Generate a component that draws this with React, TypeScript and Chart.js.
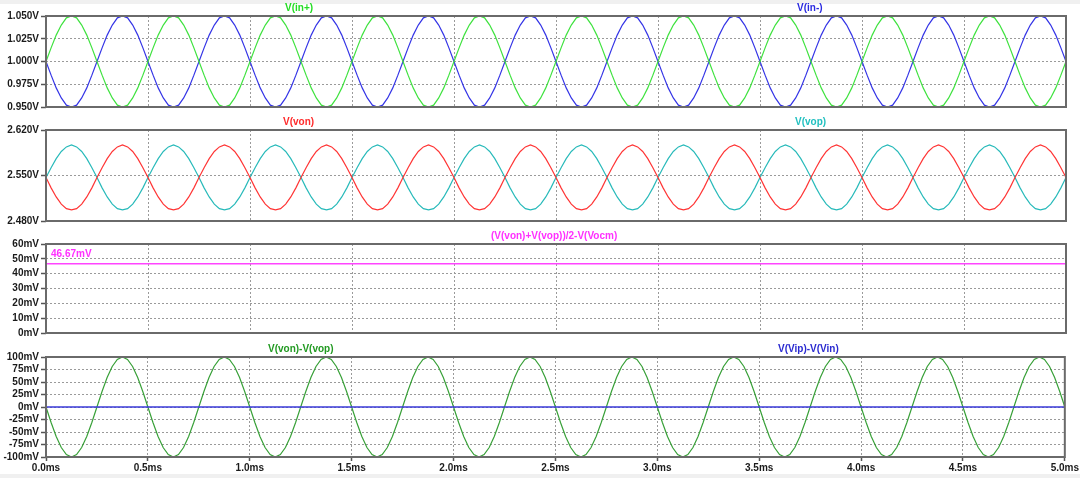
import React, { useEffect, useRef } from 'react';
import { Chart, registerables } from 'chart.js';

Chart.register(...registerables);

// ---------- data ----------
const timeStepMs = 0.025; // simulation sample step (ms)
const xTickValues = [0, 0.5, 1, 1.5, 2, 2.5, 3, 3.5, 4, 4.5, 5];
const flatTimes = [0, 5];

// V(in+) [V]
const vInPlus = [
  1.000, 1.015, 1.029, 1.040, 1.048, 1.050, 1.048, 1.040, 1.029, 1.015, 1.000, 0.985, 0.971, 0.960, 0.952, 0.950, 0.952, 0.960, 0.971, 0.985,
  1.000, 1.015, 1.029, 1.040, 1.048, 1.050, 1.048, 1.040, 1.029, 1.015, 1.000, 0.985, 0.971, 0.960, 0.952, 0.950, 0.952, 0.960, 0.971, 0.985,
  1.000, 1.015, 1.029, 1.040, 1.048, 1.050, 1.048, 1.040, 1.029, 1.015, 1.000, 0.985, 0.971, 0.960, 0.952, 0.950, 0.952, 0.960, 0.971, 0.985,
  1.000, 1.015, 1.029, 1.040, 1.048, 1.050, 1.048, 1.040, 1.029, 1.015, 1.000, 0.985, 0.971, 0.960, 0.952, 0.950, 0.952, 0.960, 0.971, 0.985,
  1.000, 1.015, 1.029, 1.040, 1.048, 1.050, 1.048, 1.040, 1.029, 1.015, 1.000, 0.985, 0.971, 0.960, 0.952, 0.950, 0.952, 0.960, 0.971, 0.985,
  1.000, 1.015, 1.029, 1.040, 1.048, 1.050, 1.048, 1.040, 1.029, 1.015, 1.000, 0.985, 0.971, 0.960, 0.952, 0.950, 0.952, 0.960, 0.971, 0.985,
  1.000, 1.015, 1.029, 1.040, 1.048, 1.050, 1.048, 1.040, 1.029, 1.015, 1.000, 0.985, 0.971, 0.960, 0.952, 0.950, 0.952, 0.960, 0.971, 0.985,
  1.000, 1.015, 1.029, 1.040, 1.048, 1.050, 1.048, 1.040, 1.029, 1.015, 1.000, 0.985, 0.971, 0.960, 0.952, 0.950, 0.952, 0.960, 0.971, 0.985,
  1.000, 1.015, 1.029, 1.040, 1.048, 1.050, 1.048, 1.040, 1.029, 1.015, 1.000, 0.985, 0.971, 0.960, 0.952, 0.950, 0.952, 0.960, 0.971, 0.985,
  1.000, 1.015, 1.029, 1.040, 1.048, 1.050, 1.048, 1.040, 1.029, 1.015, 1.000, 0.985, 0.971, 0.960, 0.952, 0.950, 0.952, 0.960, 0.971, 0.985,
  1.000,
];

// V(in-) [V]
const vInMinus = [
  1.000, 0.985, 0.971, 0.960, 0.952, 0.950, 0.952, 0.960, 0.971, 0.985, 1.000, 1.015, 1.029, 1.040, 1.048, 1.050, 1.048, 1.040, 1.029, 1.015,
  1.000, 0.985, 0.971, 0.960, 0.952, 0.950, 0.952, 0.960, 0.971, 0.985, 1.000, 1.015, 1.029, 1.040, 1.048, 1.050, 1.048, 1.040, 1.029, 1.015,
  1.000, 0.985, 0.971, 0.960, 0.952, 0.950, 0.952, 0.960, 0.971, 0.985, 1.000, 1.015, 1.029, 1.040, 1.048, 1.050, 1.048, 1.040, 1.029, 1.015,
  1.000, 0.985, 0.971, 0.960, 0.952, 0.950, 0.952, 0.960, 0.971, 0.985, 1.000, 1.015, 1.029, 1.040, 1.048, 1.050, 1.048, 1.040, 1.029, 1.015,
  1.000, 0.985, 0.971, 0.960, 0.952, 0.950, 0.952, 0.960, 0.971, 0.985, 1.000, 1.015, 1.029, 1.040, 1.048, 1.050, 1.048, 1.040, 1.029, 1.015,
  1.000, 0.985, 0.971, 0.960, 0.952, 0.950, 0.952, 0.960, 0.971, 0.985, 1.000, 1.015, 1.029, 1.040, 1.048, 1.050, 1.048, 1.040, 1.029, 1.015,
  1.000, 0.985, 0.971, 0.960, 0.952, 0.950, 0.952, 0.960, 0.971, 0.985, 1.000, 1.015, 1.029, 1.040, 1.048, 1.050, 1.048, 1.040, 1.029, 1.015,
  1.000, 0.985, 0.971, 0.960, 0.952, 0.950, 0.952, 0.960, 0.971, 0.985, 1.000, 1.015, 1.029, 1.040, 1.048, 1.050, 1.048, 1.040, 1.029, 1.015,
  1.000, 0.985, 0.971, 0.960, 0.952, 0.950, 0.952, 0.960, 0.971, 0.985, 1.000, 1.015, 1.029, 1.040, 1.048, 1.050, 1.048, 1.040, 1.029, 1.015,
  1.000, 0.985, 0.971, 0.960, 0.952, 0.950, 0.952, 0.960, 0.971, 0.985, 1.000, 1.015, 1.029, 1.040, 1.048, 1.050, 1.048, 1.040, 1.029, 1.015,
  1.000,
];

// V(von) [V]
const vVon = [
  2.547, 2.531, 2.517, 2.506, 2.499, 2.497, 2.499, 2.506, 2.517, 2.531, 2.547, 2.562, 2.576, 2.587, 2.594, 2.597, 2.594, 2.587, 2.576, 2.562,
  2.547, 2.531, 2.517, 2.506, 2.499, 2.497, 2.499, 2.506, 2.517, 2.531, 2.547, 2.562, 2.576, 2.587, 2.594, 2.597, 2.594, 2.587, 2.576, 2.562,
  2.547, 2.531, 2.517, 2.506, 2.499, 2.497, 2.499, 2.506, 2.517, 2.531, 2.547, 2.562, 2.576, 2.587, 2.594, 2.597, 2.594, 2.587, 2.576, 2.562,
  2.547, 2.531, 2.517, 2.506, 2.499, 2.497, 2.499, 2.506, 2.517, 2.531, 2.547, 2.562, 2.576, 2.587, 2.594, 2.597, 2.594, 2.587, 2.576, 2.562,
  2.547, 2.531, 2.517, 2.506, 2.499, 2.497, 2.499, 2.506, 2.517, 2.531, 2.547, 2.562, 2.576, 2.587, 2.594, 2.597, 2.594, 2.587, 2.576, 2.562,
  2.547, 2.531, 2.517, 2.506, 2.499, 2.497, 2.499, 2.506, 2.517, 2.531, 2.547, 2.562, 2.576, 2.587, 2.594, 2.597, 2.594, 2.587, 2.576, 2.562,
  2.547, 2.531, 2.517, 2.506, 2.499, 2.497, 2.499, 2.506, 2.517, 2.531, 2.547, 2.562, 2.576, 2.587, 2.594, 2.597, 2.594, 2.587, 2.576, 2.562,
  2.547, 2.531, 2.517, 2.506, 2.499, 2.497, 2.499, 2.506, 2.517, 2.531, 2.547, 2.562, 2.576, 2.587, 2.594, 2.597, 2.594, 2.587, 2.576, 2.562,
  2.547, 2.531, 2.517, 2.506, 2.499, 2.497, 2.499, 2.506, 2.517, 2.531, 2.547, 2.562, 2.576, 2.587, 2.594, 2.597, 2.594, 2.587, 2.576, 2.562,
  2.547, 2.531, 2.517, 2.506, 2.499, 2.497, 2.499, 2.506, 2.517, 2.531, 2.547, 2.562, 2.576, 2.587, 2.594, 2.597, 2.594, 2.587, 2.576, 2.562,
  2.547,
];

// V(vop) [V]
const vVop = [
  2.547, 2.562, 2.576, 2.587, 2.594, 2.597, 2.594, 2.587, 2.576, 2.562, 2.547, 2.531, 2.517, 2.506, 2.499, 2.497, 2.499, 2.506, 2.517, 2.531,
  2.547, 2.562, 2.576, 2.587, 2.594, 2.597, 2.594, 2.587, 2.576, 2.562, 2.547, 2.531, 2.517, 2.506, 2.499, 2.497, 2.499, 2.506, 2.517, 2.531,
  2.547, 2.562, 2.576, 2.587, 2.594, 2.597, 2.594, 2.587, 2.576, 2.562, 2.547, 2.531, 2.517, 2.506, 2.499, 2.497, 2.499, 2.506, 2.517, 2.531,
  2.547, 2.562, 2.576, 2.587, 2.594, 2.597, 2.594, 2.587, 2.576, 2.562, 2.547, 2.531, 2.517, 2.506, 2.499, 2.497, 2.499, 2.506, 2.517, 2.531,
  2.547, 2.562, 2.576, 2.587, 2.594, 2.597, 2.594, 2.587, 2.576, 2.562, 2.547, 2.531, 2.517, 2.506, 2.499, 2.497, 2.499, 2.506, 2.517, 2.531,
  2.547, 2.562, 2.576, 2.587, 2.594, 2.597, 2.594, 2.587, 2.576, 2.562, 2.547, 2.531, 2.517, 2.506, 2.499, 2.497, 2.499, 2.506, 2.517, 2.531,
  2.547, 2.562, 2.576, 2.587, 2.594, 2.597, 2.594, 2.587, 2.576, 2.562, 2.547, 2.531, 2.517, 2.506, 2.499, 2.497, 2.499, 2.506, 2.517, 2.531,
  2.547, 2.562, 2.576, 2.587, 2.594, 2.597, 2.594, 2.587, 2.576, 2.562, 2.547, 2.531, 2.517, 2.506, 2.499, 2.497, 2.499, 2.506, 2.517, 2.531,
  2.547, 2.562, 2.576, 2.587, 2.594, 2.597, 2.594, 2.587, 2.576, 2.562, 2.547, 2.531, 2.517, 2.506, 2.499, 2.497, 2.499, 2.506, 2.517, 2.531,
  2.547, 2.562, 2.576, 2.587, 2.594, 2.597, 2.594, 2.587, 2.576, 2.562, 2.547, 2.531, 2.517, 2.506, 2.499, 2.497, 2.499, 2.506, 2.517, 2.531,
  2.547,
];

// V(von)-V(vop) [mV]
const vDiffOut = [
  0, -31, -59, -81, -95, -100, -95, -81, -59, -31, 0, 31, 59, 81, 95, 100, 95, 81, 59, 31,
  0, -31, -59, -81, -95, -100, -95, -81, -59, -31, 0, 31, 59, 81, 95, 100, 95, 81, 59, 31,
  0, -31, -59, -81, -95, -100, -95, -81, -59, -31, 0, 31, 59, 81, 95, 100, 95, 81, 59, 31,
  0, -31, -59, -81, -95, -100, -95, -81, -59, -31, 0, 31, 59, 81, 95, 100, 95, 81, 59, 31,
  0, -31, -59, -81, -95, -100, -95, -81, -59, -31, 0, 31, 59, 81, 95, 100, 95, 81, 59, 31,
  0, -31, -59, -81, -95, -100, -95, -81, -59, -31, 0, 31, 59, 81, 95, 100, 95, 81, 59, 31,
  0, -31, -59, -81, -95, -100, -95, -81, -59, -31, 0, 31, 59, 81, 95, 100, 95, 81, 59, 31,
  0, -31, -59, -81, -95, -100, -95, -81, -59, -31, 0, 31, 59, 81, 95, 100, 95, 81, 59, 31,
  0, -31, -59, -81, -95, -100, -95, -81, -59, -31, 0, 31, 59, 81, 95, 100, 95, 81, 59, 31,
  0, -31, -59, -81, -95, -100, -95, -81, -59, -31, 0, 31, 59, 81, 95, 100, 95, 81, 59, 31,
  0,
];

// (V(von)+V(vop))/2-V(Vocm) [mV]
const vCommonErr = [46.67, 46.67];
// V(Vip)-V(Vin) [mV]
const vDiffIn = [0, 0];

// y-axis ticks
const yTicksIn = [0.95, 0.975, 1.0, 1.025, 1.05];
const yTicksOut = [2.48, 2.55, 2.62];
const yTicksCm = [0, 10, 20, 30, 40, 50, 60];
const yTicksDiff = [-100, -75, -50, -25, 0, 25, 50, 75, 100];

// ---------- styling ----------
const FONT = { family: '"Liberation Sans", Arial, sans-serif', size: 10, weight: 'bold' as const };
const FONT_CSS = 'bold 10px "Liberation Sans", Arial, sans-serif';
const GRID_COLOR = '#9a9a9a';
const FRAME_COLOR = '#6a6a6a';
const TICK_TEXT = '#1a1a1a';

const sampleTimes = (n: number) => Array.from({ length: n }, (_, i) => i * timeStepMs);
const toPoints = (xs: number[], ys: number[]) => ys.map((y, i) => ({ x: xs[i], y }));

type Label = { text: string; x: number; dy: number; color: string };
type PaneDef = {
  top: number;
  areaH: number;
  showX: boolean;
  yMin: number;
  yMax: number;
  yTicks: number[];
  fmt: (v: number) => string;
  datasets: { data: { x: number; y: number }[]; color: string; width?: number }[];
  labels: Label[];
};

const decorPlugin = {
  id: 'decor',
  afterDatasetsDraw(chart: any, _args: any, opts: any) {
    const { ctx, chartArea } = chart;
    ctx.save();
    ctx.strokeStyle = FRAME_COLOR;
    ctx.lineWidth = 2;
    ctx.strokeRect(chartArea.left, chartArea.top, chartArea.right - chartArea.left, chartArea.bottom - chartArea.top);
    ctx.font = FONT_CSS;
    ctx.textBaseline = 'middle';
    ctx.textAlign = 'left';
    for (const l of (opts.labels || []) as Label[]) {
      ctx.fillStyle = l.color;
      ctx.fillText(l.text, l.x, chartArea.top + l.dy);
    }
    ctx.restore();
  },
};

function Pane({ def }: { def: PaneDef }) {
  const ref = useRef<HTMLCanvasElement | null>(null);
  const canvasH = 16 + def.areaH + (def.showX ? 17 : 2);
  useEffect(() => {
    if (!ref.current) return;
    const chart = new Chart(ref.current, {
      type: 'line',
      data: {
        datasets: def.datasets.map((d) => ({
          data: d.data,
          borderColor: d.color,
          borderWidth: d.width ?? 1.2,
          pointRadius: 0,
          tension: 0,
          fill: false,
        })),
      },
      options: {
        animation: false,
        responsive: false,
        maintainAspectRatio: false,
        events: [],
        layout: { padding: { top: 16, right: 14, bottom: def.showX ? 0 : 2, left: 0 } },
        plugins: {
          legend: { display: false },
          tooltip: { enabled: false },
          title: { display: false },
          decor: { labels: def.labels },
        } as any,
        scales: {
          x: {
            type: 'linear',
            min: 0,
            max: 5,
            afterBuildTicks: (s: any) => {
              s.ticks = xTickValues.map((v) => ({ value: v }));
            },
            afterFit: (s: any) => {
              s.height = def.showX ? 17 : 0;
            },
            ticks: {
              display: def.showX,
              autoSkip: false,
              maxRotation: 0,
              padding: 1,
              color: TICK_TEXT,
              font: FONT,
              callback: (v: any) => Number(v).toFixed(1) + 'ms',
            },
            grid: {
              color: GRID_COLOR,
              lineWidth: 1,
              drawTicks: def.showX,
              tickLength: 4,
              tickColor: '#555555',
              tickWidth: 1.5,
              tickBorderDash: [],
            },
            border: { display: false, dash: [2, 2] },
          },
          y: {
            type: 'linear',
            min: def.yMin,
            max: def.yMax,
            afterBuildTicks: (s: any) => {
              s.ticks = def.yTicks.map((v) => ({ value: v }));
            },
            afterFit: (s: any) => {
              s.width = 46;
            },
            ticks: {
              autoSkip: false,
              padding: 2,
              color: TICK_TEXT,
              font: FONT,
              callback: (v: any) => def.fmt(Number(v)),
            },
            grid: {
              color: GRID_COLOR,
              lineWidth: 1,
              drawTicks: true,
              tickLength: 5,
              tickColor: '#555555',
              tickWidth: 1.5,
              tickBorderDash: [],
            },
            border: { display: false, dash: [2, 2] },
          },
        },
      } as any,
      plugins: [decorPlugin],
    });
    return () => chart.destroy();
  }, [def]);
  return (
    <canvas
      ref={ref}
      width={1080}
      height={canvasH}
      style={{ position: 'absolute', left: 0, top: def.top - 16, width: 1080, height: canvasH }}
    />
  );
}

const fmtV = (v: number) => v.toFixed(3) + 'V';
const fmtMv = (v: number) => Math.round(v) + 'mV';

const panes: PaneDef[] = [
  {
    top: 16,
    areaH: 97,
    showX: false,
    yMin: 0.95,
    yMax: 1.05,
    yTicks: yTicksIn,
    fmt: fmtV,
    datasets: [
      { data: toPoints(sampleTimes(vInPlus.length), vInPlus), color: '#3ee23e' },
      { data: toPoints(sampleTimes(vInMinus.length), vInMinus), color: '#3434e6' },
    ],
    labels: [
      { text: 'V(in+)', x: 285, dy: -7.5, color: '#22dd22' },
      { text: 'V(in-)', x: 797, dy: -7.5, color: '#2a2ae0' },
    ],
  },
  {
    top: 130,
    areaH: 97,
    showX: false,
    yMin: 2.48,
    yMax: 2.62,
    yTicks: yTicksOut,
    fmt: fmtV,
    datasets: [
      { data: toPoints(sampleTimes(vVon.length), vVon), color: '#ff3535' },
      { data: toPoints(sampleTimes(vVop.length), vVop), color: '#28baba' },
    ],
    labels: [
      { text: 'V(von)', x: 283, dy: -7.5, color: '#ff2a2a' },
      { text: 'V(vop)', x: 795, dy: -7.5, color: '#22c0c0' },
    ],
  },
  {
    top: 244,
    areaH: 95,
    showX: false,
    yMin: 0,
    yMax: 60,
    yTicks: yTicksCm,
    fmt: fmtMv,
    datasets: [{ data: toPoints(flatTimes, vCommonErr), color: '#ff44ff', width: 1.6 }],
    labels: [
      { text: '(V(von)+V(vop))/2-V(Vocm)', x: 491, dy: -7.5, color: '#ff30ff' },
      { text: '46.67mV', x: 51, dy: 10, color: '#ff30ff' },
    ],
  },
  {
    top: 357,
    areaH: 100,
    showX: true,
    yMin: -100,
    yMax: 100,
    yTicks: yTicksDiff,
    fmt: fmtMv,
    datasets: [
      { data: toPoints(flatTimes, vDiffIn), color: '#3a3ad8', width: 1.4 },
      { data: toPoints(sampleTimes(vDiffOut.length), vDiffOut), color: '#38a038' },
    ],
    labels: [
      { text: 'V(von)-V(vop)', x: 268, dy: -7.5, color: '#229a22' },
      { text: 'V(Vip)-V(Vin)', x: 778, dy: -7.5, color: '#2a2ad0' },
    ],
  },
];

export default function App() {
  return (
    <div
      style={{
        position: 'fixed',
        left: 0,
        top: 0,
        width: 1080,
        height: 478,
        background: '#ffffff',
        overflow: 'hidden',
      }}
    >
      <div style={{ position: 'absolute', left: 0, top: 0, width: 1080, height: 4, background: '#f0f0f0' }} />
      <div style={{ position: 'absolute', left: 0, top: 474, width: 1080, height: 4, background: '#f0f0f0' }} />
      {panes.map((p, i) => (
        <Pane key={i} def={p} />
      ))}
    </div>
  );
}
